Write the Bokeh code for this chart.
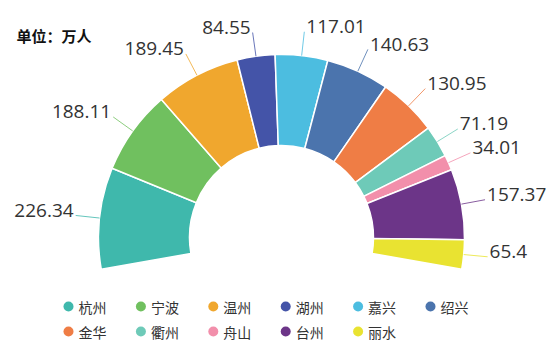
import numpy as np
from bokeh.plotting import figure
from bokeh.models import Range1d, ColumnDataSource
from bokeh.core.properties import value
from bokeh.embed import file_html
from bokeh.resources import INLINE

# ---- data ----
cities = ["杭州", "宁波", "温州", "湖州", "嘉兴", "绍兴", "金华", "衢州", "舟山", "台州", "丽水"]
values = [226.34, 188.11, 189.45, 84.55, 117.01, 140.63, 130.95, 71.19, 34.01, 157.37, 65.4]
colors = ["#3fb8ac", "#70c05f", "#f0a72e", "#4454a8", "#4cbde0", "#4b74ad",
          "#ef7d45", "#6ecab8", "#f28fab", "#6c3588", "#e9e331"]
unit_title = "单位：万人"

# ---- layout ----
W, H = 550, 363
IMG_H = 363
cx, cy = 281, IMG_H - 237
r_in, r_out = 92, 183
start_deg, span_deg = 190.0, 200.0
line_len = 24

p = figure(width=W, height=H, output_backend="svg", toolbar_location=None,
           x_range=Range1d(0, W), y_range=Range1d(IMG_H - H, IMG_H),
           min_border=0)
p.axis.visible = False
p.grid.visible = False
p.outline_line_color = None
p.background_fill_color = "white"
p.border_fill_color = "white"

vals = np.array(values, dtype=float)
total = vals.sum()
spans = vals / total * np.radians(span_deg)
ends = np.radians(start_deg) - np.concatenate([[0], np.cumsum(spans)[:-1]])
starts = ends - spans
mids = (starts + ends) / 2

src = ColumnDataSource(dict(start=starts, end=ends, color=colors, city=cities))
p.annular_wedge(x=cx, y=cy, inner_radius=r_in, outer_radius=r_out,
                start_angle="start", end_angle="end", source=src,
                fill_color="color", line_color="white", line_width=1.5)

# leader lines and labels
x0 = cx + r_out * np.cos(mids)
y0 = cy + r_out * np.sin(mids)
x1 = cx + (r_out + line_len) * np.cos(mids)
y1 = cy + (r_out + line_len) * np.sin(mids)
p.segment(x0=x0, y0=y0, x1=x1, y1=y1, line_color=colors, line_width=1, line_alpha=0.8)

labels = [("%g" % v) for v in values]
right = np.cos(mids) >= 0
for mask, align, dx in [(right, "left", 2), (~right, "right", -2)]:
    idx = np.where(mask)[0]
    p.text(x=list(x1[idx] + dx), y=list(y1[idx] + 5), text=[labels[i] for i in idx],
           text_align=align, text_baseline="middle",
           text_font=value("Open Sans"), text_font_size="19px", text_color="#333333")

# title
p.text(x=[16], y=[IMG_H - 35], text=[unit_title], text_align="left", text_baseline="middle",
       text_font=value("Noto Sans CJK SC"), text_font_size="15px", text_font_style="bold",
       text_color="#111111")

# legend (2 rows x 6 cols)
ncol = 6
lx = [68 + 72.4 * (i % ncol) for i in range(len(cities))]
ly = [IMG_H - (306 + 25 * (i // ncol)) for i in range(len(cities))]
p.scatter(x=lx, y=ly, size=10, marker="circle", fill_color=colors, line_color=None)
p.text(x=[x + 10 for x in lx], y=ly, text=cities, text_align="left", text_baseline="middle",
       text_font=value("Noto Sans CJK SC"), text_font_size="14px", text_color="#333333")

open("out.html", "w").write(file_html(p, INLINE))
